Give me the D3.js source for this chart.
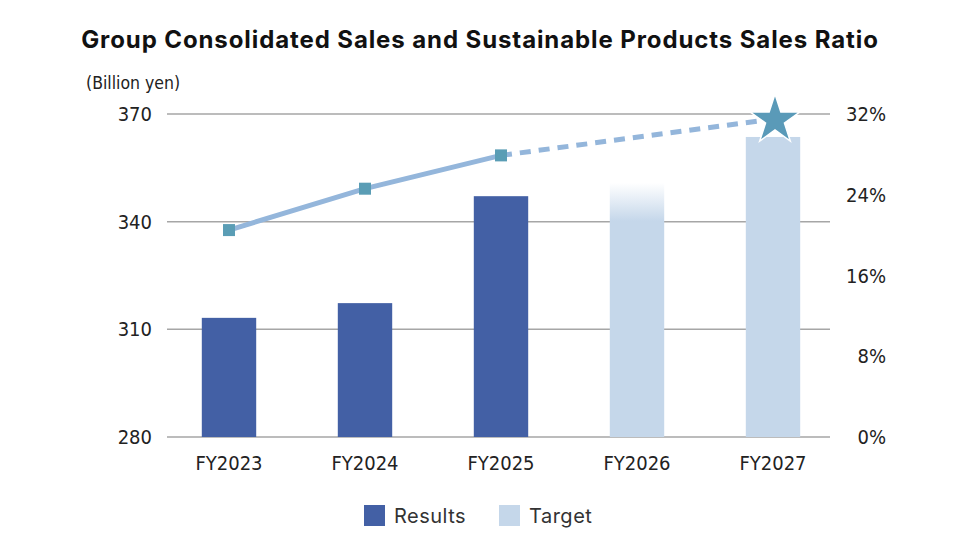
<!DOCTYPE html>
<html>
<head>
<meta charset="utf-8">
<script src="https://cdn.jsdelivr.net/npm/d3@7"></script>
<style>
  body { margin: 0; background: #fff; }
  svg text { fill: #222; }
  .narrow { font-family: "Liberation Sans Narrow", "DejaVu Sans", sans-serif; font-stretch: condensed; }
</style>
</head>
<body>
<svg id="chart" width="960" height="540"></svg>
<script>
// data
var years = ['FY2023', 'FY2024', 'FY2025', 'FY2026', 'FY2027'];
var sales = [313.2, 317.3, 347.1, 350.8, 363.6];       // billion yen
var kinds = ['Results', 'Results', 'Results', 'Target', 'Target'];
var ratio = [20.5, 24.6, 27.9, null, 31.5];             // % sustainable products
var salesTicks = [280, 310, 340, 370];
var ratioTicks = [0, 8, 16, 24, 32];

var svg = d3.select('#chart'),
    plotTop = 114, plotBottom = 437,
    gridLeft = 167, gridRight = 830,
    uiFont = '"Inter", "Open Sans", sans-serif';

var colors = { Results: '#4360a5', Target: '#c5d7ea' };

var x = d3.scaleBand().domain(years).range([161, 841]).paddingInner(0.6).paddingOuter(0.3),
    y = d3.scaleLinear().domain([280, 370]).range([plotBottom, plotTop]),
    y2 = d3.scaleLinear().domain([0, 32]).range([plotBottom, plotTop]);

// title
svg.append('text')
  .attr('x', 480).attr('y', 48)
  .attr('text-anchor', 'middle')
  .style('font-family', uiFont)
  .style('font-weight', 700)
  .style('font-size', '24px')
  .style('letter-spacing', '0.9px')
  .style('fill', '#111')
  .text('Group Consolidated Sales and Sustainable Products Sales Ratio');

svg.append('text')
  .classed('narrow', true)
  .attr('x', 86).attr('y', 89)
  .style('font-size', '17.5px')
  .text('(Billion yen)');

// gradient for the faded FY2026 bar
var defs = svg.append('defs');
var grad = defs.append('linearGradient')
  .attr('id', 'fade').attr('x1', 0).attr('y1', 0).attr('x2', 0).attr('y2', 1);
grad.append('stop').attr('offset', '0%').attr('stop-color', colors.Target).attr('stop-opacity', 0);
grad.append('stop').attr('offset', '15%').attr('stop-color', colors.Target).attr('stop-opacity', 1);
grad.append('stop').attr('offset', '100%').attr('stop-color', colors.Target).attr('stop-opacity', 1);

// gridlines
svg.append('g')
  .selectAll('line')
  .data(salesTicks)
  .join('line')
    .attr('x1', gridLeft).attr('x2', gridRight)
    .attr('y1', d => y(d)).attr('y2', d => y(d))
    .attr('stroke', '#a6a6a6')
    .attr('stroke-width', 1.5);

// left axis labels
svg.append('g')
  .selectAll('text')
  .data(salesTicks)
  .join('text')
    .classed('narrow', true)
    .attr('x', 152).attr('y', d => y(d))
    .attr('text-anchor', 'end')
    .attr('dy', '0.35em')
    .style('font-size', '20px')
    .text(d => d);

// right axis labels
svg.append('g')
  .selectAll('text')
  .data(ratioTicks)
  .join('text')
    .classed('narrow', true)
    .attr('x', 886).attr('y', d => y2(d))
    .attr('text-anchor', 'end')
    .attr('dy', '0.35em')
    .style('font-size', '20px')
    .text(d => d + '%');

// x labels
svg.append('g')
  .selectAll('text')
  .data(years)
  .join('text')
    .classed('narrow', true)
    .attr('x', d => x(d) + x.bandwidth() / 2)
    .attr('y', 470)
    .attr('text-anchor', 'middle')
    .style('font-size', '20px')
    .text(d => d);

// bars
svg.append('g')
  .selectAll('rect')
  .data(years)
  .join('rect')
    .attr('x', d => x(d))
    .attr('width', x.bandwidth())
    .attr('y', (d, i) => y(sales[i]))
    .attr('height', (d, i) => plotBottom - y(sales[i]))
    .attr('fill', (d, i) => (i === 3) ? 'url(#fade)' : colors[kinds[i]]);

// ratio line
var pts = years.map((d, i) => ({ x: x(d) + x.bandwidth() / 2, v: ratio[i] }))
  .filter(p => p.v != null);
var line = d3.line().x(p => p.x).y(p => y2(p.v));

svg.append('path')
  .datum(pts.slice(0, 3))
  .attr('d', line)
  .attr('fill', 'none')
  .attr('stroke', '#94b6db')
  .attr('stroke-width', 5);

svg.append('path')
  .datum(pts.slice(2))
  .attr('d', line)
  .attr('fill', 'none')
  .attr('stroke', '#94b6db')
  .attr('stroke-width', 5)
  .attr('stroke-dasharray', '11 8');

svg.append('g')
  .selectAll('rect')
  .data(pts.slice(0, 3))
  .join('rect')
    .attr('x', p => p.x - 6).attr('y', p => y2(p.v) - 6)
    .attr('width', 12).attr('height', 12)
    .attr('fill', '#5a9db5');

var last = pts[pts.length - 1];
svg.append('path')
  .attr('d', d3.symbol(d3.symbolStar, 760)())
  .attr('transform', `translate(${last.x + 2}, ${y2(last.v) + 1})`)
  .attr('fill', '#5a9ab8')
  .attr('stroke', '#fff')
  .attr('stroke-width', 1.5);

// legend
var legend = svg.append('g').attr('transform', 'translate(364, 505)');
['Results', 'Target'].forEach(function (k, i) {
  var g = legend.append('g').attr('transform', `translate(${i * 135}, 0)`);
  g.append('rect').attr('width', 21).attr('height', 21).attr('fill', colors[k]);
  g.append('text')
    .attr('x', 30).attr('y', 11)
    .attr('dy', '0.35em')
    .style('font-family', uiFont)
    .style('font-size', '20px')
    .style('letter-spacing', '0.5px')
    .style('fill', '#333')
    .text(k);
});
</script>
</body>
</html>
